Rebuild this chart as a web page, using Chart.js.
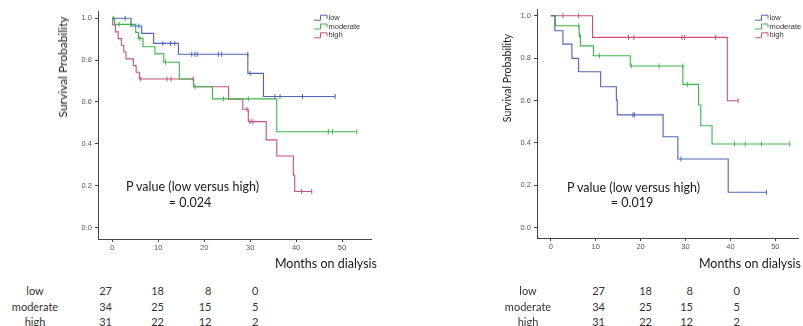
<!DOCTYPE html>
<html><head><meta charset="utf-8">
<script src="https://cdn.jsdelivr.net/npm/chart.js@4/dist/chart.umd.min.js"></script>
<style>
html,body{margin:0;padding:0;background:#fff;}
body{width:803px;height:326px;position:relative;overflow:hidden;font-family:Lato,'Open Sans',sans-serif;color:#222;}
canvas{position:absolute;top:0;}
.t{position:absolute;white-space:nowrap;color:#1a1a1a;line-height:1;}
.yl{transform:translate(-50%,-50%) rotate(-90deg);}
.c{transform:translate(-50%,-50%);}
.r{transform:translate(-100%,-50%);}
.l{transform:translate(0,-50%);}
.rt{position:absolute;white-space:nowrap;font-size:11px;color:#333;line-height:1;}
</style></head>
<body>
<canvas id="cl" width="380" height="260" style="left:0px"></canvas>
<canvas id="cr" width="383" height="260" style="left:420px"></canvas>
<div id="txt"></div>
<script>
// ---------- data ----------
const groups = ['low', 'moderate', 'high'];
const colors = ['#4f63b8', '#3cb54a', '#c9507c'];
const xTicks = [0, 10, 20, 30, 40, 50];
const yTicks = [0, 0.2, 0.4, 0.6, 0.8, 1.0];

// left panel: step curves (time, survival)
const leftLowT  = [0, 4.1, 6.4, 9.0, 14.4, 29.5, 32.9, 48.5];
const leftLowS  = [1, 0.963, 0.928, 0.88, 0.828, 0.737, 0.626, 0.626];
const leftLowCT = [2.8, 5.8, 11.0, 12.7, 13.6, 17.3, 18.0, 18.5, 23.1, 23.8, 29.5, 30.0, 35.4, 36.5, 41.4, 48.5];
const leftLowCS = [1, 0.963, 0.88, 0.88, 0.88, 0.828, 0.828, 0.828, 0.828, 0.828, 0.828, 0.737, 0.626, 0.626, 0.626, 0.626];

const leftModT  = [0, 0.5, 5.1, 5.7, 6.7, 9.3, 11.2, 14.6, 17.7, 21.8, 35.8, 53.2];
const leftModS  = [1, 0.971, 0.933, 0.904, 0.864, 0.83, 0.79, 0.71, 0.673, 0.615, 0.458, 0.458];
const leftModCT = [0.2, 1.5, 4.0, 6.0, 11.6, 18.0, 24.2, 29.6, 47.0, 47.9, 53.2];
const leftModCS = [1, 0.971, 0.971, 0.904, 0.79, 0.673, 0.615, 0.615, 0.458, 0.458, 0.458];

const leftHighT  = [0, 0.1, 0.7, 1.3, 2.0, 2.5, 3.0, 4.6, 5.2, 5.9, 17.7, 25.3, 28.4, 29.6, 33.5, 35.8, 39.4, 39.7, 43.4];
const leftHighS  = [1, 0.968, 0.935, 0.903, 0.871, 0.839, 0.806, 0.774, 0.742, 0.71, 0.673, 0.613, 0.565, 0.506, 0.419, 0.342, 0.25, 0.172, 0.172];
const leftHighCT = [6.2, 11.9, 12.8, 17.6, 29.3, 30.0, 30.6, 41.2, 43.4];
const leftHighCS = [0.71, 0.71, 0.71, 0.71, 0.565, 0.506, 0.506, 0.172, 0.172];

// right panel
const rightLowT  = [0, 0.9, 2.7, 4.7, 6.2, 11.1, 14.6, 14.8, 25.0, 28.3, 39.5, 48.0];
const rightLowS  = [1, 0.929, 0.866, 0.799, 0.736, 0.665, 0.602, 0.532, 0.429, 0.324, 0.167, 0.167];
const rightLowCT = [18.3, 18.6, 29.0, 48.0];
const rightLowCS = [0.532, 0.532, 0.324, 0.167];

const rightModT  = [0, 1.0, 6.3, 6.6, 9.5, 17.7, 29.4, 32.9, 33.4, 35.9, 53.2];
const rightModS  = [1, 0.953, 0.909, 0.858, 0.811, 0.763, 0.676, 0.579, 0.481, 0.395, 0.395];
const rightModCT = [6.2, 6.4, 10.8, 17.9, 24.1, 29.4, 30.4, 40.9, 43.3, 46.9, 53.2];
const rightModCS = [0.953, 0.909, 0.811, 0.763, 0.763, 0.763, 0.676, 0.395, 0.395, 0.395, 0.395];

const rightHighT  = [0, 9.3, 39.3, 41.7];
const rightHighS  = [1, 0.898, 0.599, 0.599];
const rightHighCT = [2.7, 6.2, 17.3, 18.5, 29.2, 29.8, 36.7, 41.7];
const rightHighCS = [1, 1, 0.898, 0.898, 0.898, 0.898, 0.898, 0.599];

// number at risk
const riskLow      = [27, 18, 8, 0];
const riskModerate = [34, 25, 15, 5];
const riskHigh     = [31, 22, 12, 2];
const leftP  = '= 0.024';
const rightP = '= 0.019';

// ---------- drawing ----------
const pts = (T, S) => T.map((t, i) => ({x: t, y: S[i]}));

const stepLegend = {
  id: 'stepLegend',
  afterDatasetsDraw(chart, args, o) {
    const ctx = chart.ctx;
    ctx.save();
    ctx.font = o.font; ctx.textBaseline = 'middle'; ctx.fillStyle = '#333';
    for (let i = 0; i < 3; i++) {
      const ds = chart.data.datasets[i];
      const x = o.x, y = o.y + i * o.dy, w = o.w;
      ctx.strokeStyle = ds.borderColor; ctx.lineWidth = 1;
      ctx.beginPath();
      ctx.moveTo(x, y + 2.5); ctx.lineTo(x + w * 0.5, y + 2.5); ctx.lineTo(x + w * 0.5, y - 2.5);
      ctx.lineTo(x + w, y - 2.5); ctx.lineTo(x + w, y + 1);
      ctx.stroke();
      ctx.fillText(ds.label, x + w + 1.5, y);
    }
    ctx.restore();
  }
};

function makeChart(id, curves, cfg) {
  const datasets = [];
  curves.forEach((c, i) => datasets.push({
    label: groups[i], data: pts(c[0], c[1]), borderColor: colors[i], borderWidth: 1.1,
    stepped: 'before', pointRadius: 0, fill: false, order: 1
  }));
  curves.forEach((c, i) => datasets.push({
    label: groups[i] + ' censored', data: pts(c[2], c[3]), borderColor: colors[i],
    backgroundColor: colors[i], showLine: false, pointStyle: 'line', rotation: 90,
    pointRadius: 2.5, pointBorderWidth: 1, order: 0
  }));
  const tickFont = {size: 7.5, family: 'Liberation Sans'};
  new Chart(document.getElementById(id), {
    type: 'line',
    data: {datasets},
    options: {
      responsive: false, animation: false, events: [],
      layout: {padding: {top: cfg.padTop, right: cfg.padRight, left: 0, bottom: 0}},
      plugins: {legend: {display: false}, tooltip: {enabled: false}, stepLegend: cfg.legend},
      scales: {
        x: {
          type: 'linear', min: cfg.xmin, max: cfg.xmax,
          afterBuildTicks: s => { s.ticks = xTicks.map(v => ({value: v})); },
          afterFit: s => { s.height = cfg.xH; },
          grid: {drawOnChartArea: false, drawTicks: true, tickLength: 3, color: '#444'},
          border: {color: '#444', width: 1},
          ticks: {font: tickFont, color: '#555', padding: 1, maxRotation: 0, autoSkip: false, callback: v => String(v)}
        },
        y: {
          type: 'linear', min: cfg.ymin, max: cfg.ymax,
          afterBuildTicks: s => { s.ticks = yTicks.map(v => ({value: v})); },
          afterFit: s => { s.width = cfg.yW; },
          grid: {drawOnChartArea: false, drawTicks: true, tickLength: 3, color: '#444'},
          border: {color: '#444', width: 1},
          ticks: {font: tickFont, color: '#555', padding: 3, autoSkip: false, callback: v => Number(v).toFixed(1)}
        }
      }
    },
    plugins: [stepLegend]
  });
}

makeChart('cl', [
  [leftLowT, leftLowS, leftLowCT, leftLowCS],
  [leftModT, leftModS, leftModCT, leftModCS],
  [leftHighT, leftHighS, leftHighCT, leftHighCS]
], {padTop: 11, padRight: 9, xH: 21, yW: 98, xmin: -3.1, xmax: 56.3, ymin: -0.055, ymax: 1.035,
    legend: {x: 314, y: 17.7, dy: 8.8, w: 13, font: '7.5px "Liberation Sans"'}});

makeChart('cr', [
  [rightLowT, rightLowS, rightLowCT, rightLowCS],
  [rightModT, rightModS, rightModCT, rightModCS],
  [rightHighT, rightHighS, rightHighCT, rightHighCS]
], {padTop: 9, padRight: 1, xH: 22, yW: 117, xmin: -3.07, xmax: 55.04, ymin: -0.049, ymax: 1.032,
    legend: {x: 335, y: 17.7, dy: 8.8, w: 13, font: '7.5px "Liberation Sans"'}});

// ---------- text (titles, annotations, risk table) ----------
const txt = document.getElementById('txt');
function addText(s, x, y, cls, size) {
  const d = document.createElement('div');
  d.className = 't ' + cls; d.textContent = s;
  d.style.left = x + 'px'; d.style.top = y + 'px'; d.style.fontSize = size + 'px';
  txt.appendChild(d);
}
addText('Survival Probability', 63, 67, 'yl', 12);
addText('Survival Probability', 507, 78, 'yl', 10.5);
addText('Months on dialysis', 377, 264, 'r', 12.5);
addText('Months on dialysis', 801, 264, 'r', 12.5);
addText('P value (low versus high)', 126, 187, 'l', 12.5);
addText(leftP, 190, 203, 'c', 12.5);
addText('P value (low versus high)', 567, 188, 'l', 12.5);
addText(rightP, 632, 203, 'c', 12.5);

const riskRows = [riskLow, riskModerate, riskHigh];
const rowY = [290, 306, 321];
function riskTable(labelX, colRight) {
  riskRows.forEach((row, r) => {
    const d = document.createElement('div');
    d.className = 'rt c'; d.textContent = groups[r];
    d.style.left = labelX + 'px'; d.style.top = rowY[r] + 'px';
    txt.appendChild(d);
    row.forEach((v, c) => {
      const e = document.createElement('div');
      e.className = 'rt r'; e.textContent = String(v);
      e.style.left = colRight[c] + 'px'; e.style.top = rowY[r] + 'px';
      txt.appendChild(e);
    });
  });
}
riskTable(35, [112, 164, 211.5, 258.5]);
riskTable(528, [605, 652, 693, 740]);
</script>
</body></html>
